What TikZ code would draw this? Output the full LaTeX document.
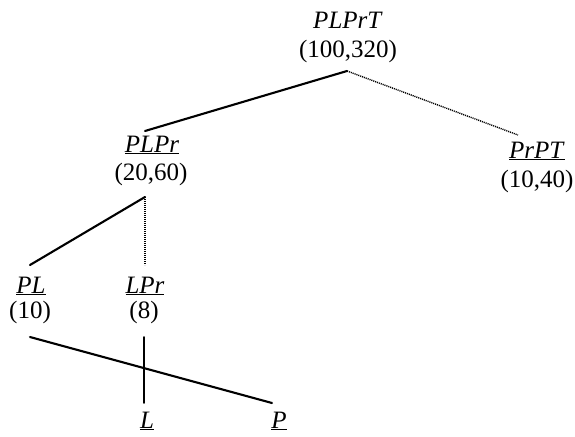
\documentclass[tikz,border=0pt]{standalone}
\usepackage{fontspec}
\setmainfont{Liberation Serif}
\begin{document}
\begin{tikzpicture}[x=1pt,y=-1pt,
  lbl/.style={inner sep=0pt,anchor=base,font=\fontsize{25}{29}\selectfont},
  solidline/.style={line width=2.1pt,line cap=round},
  dotline/.style={line width=1.4pt,dash pattern=on 1.1pt off 0.9pt}]
\useasboundingbox (0,0) rectangle (575,436);
% labels
\node[lbl] (plprt) at (348,29) {\textit{PLPrT}};
\node[lbl] (plprtn) at (348,58) {(100,320)};
\node[lbl] (plpr) at (152,152) {\underline{\textit{PLPr}}};
\node[lbl] (plprn) at (151,180) {(20,60)};
\node[lbl] (prpt) at (537,158) {\underline{\textit{PrPT}}};
\node[lbl] (prptn) at (537,187) {(10,40)};
\node[lbl] (pl) at (31,293) {\underline{\textit{PL}}};
\node[lbl] (pln) at (30,318) {(10)};
\node[lbl] (lpr) at (145,293) {\underline{\textit{LPr}}};
\node[lbl] (lprn) at (144,318) {(8)};
\node[lbl] (l) at (147,428) {\underline{\textit{L}}};
\node[lbl] (p) at (279,428) {\underline{\textit{P}}};
% connector ends
\coordinate (a1) at (347,71);
\coordinate (a2) at (145,131);
\coordinate (a3) at (518,135);
\coordinate (b1) at (145,197);
\coordinate (b2) at (30,265);
\coordinate (b3) at (145,265);
\coordinate (c1) at (30,337);
\coordinate (c2) at (272,403);
\coordinate (d1) at (144,337);
\coordinate (d2) at (144,403);
% connectors
\draw[solidline] (a1) -- (a2);
\draw[dotline] (a1) -- (a3);
\draw[solidline] (b1) -- (b2);
\draw[dotline] (b1) -- (b3);
\draw[solidline] (c1) -- (c2);
\draw[solidline,line width=1.7pt] (d1) -- (d2);
\end{tikzpicture}
\end{document}
